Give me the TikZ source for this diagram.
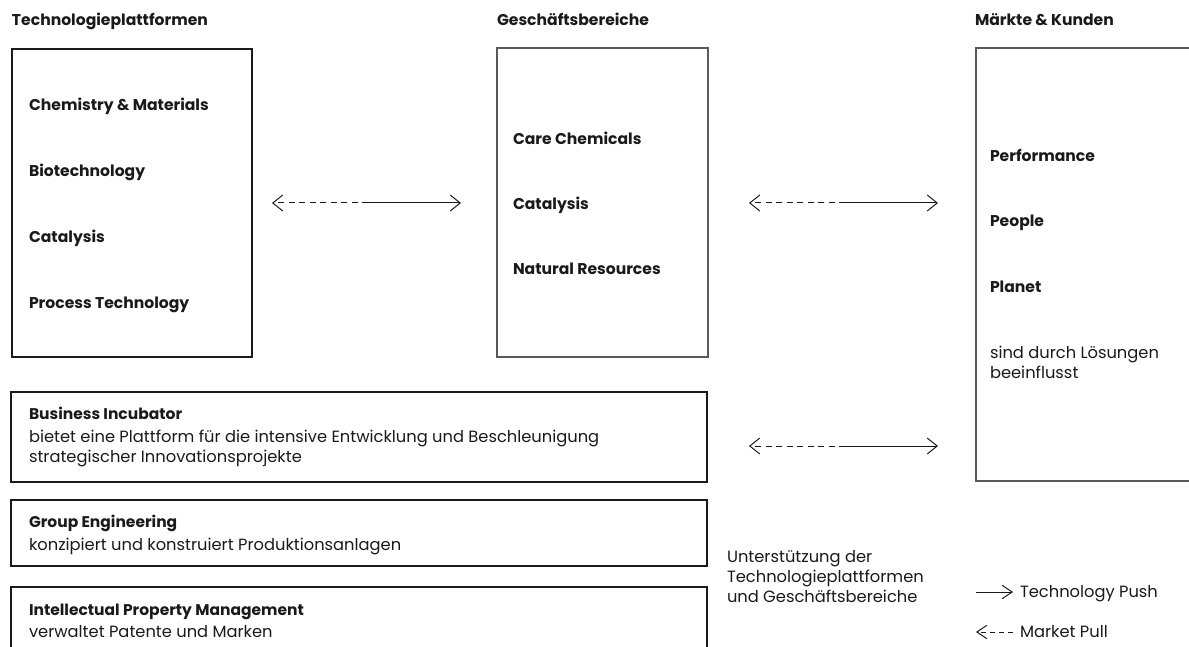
\documentclass[tikz,border=0pt]{standalone}
\usepackage{fontspec}
\setmainfont{Poppins}
\usetikzlibrary{arrows.meta}
\definecolor{ink}{HTML}{1A1A1A}
\tikzset{
  every node/.style={inner sep=0pt, outer sep=0pt, text=ink},
  heavybox/.style={draw=ink, line width=2.6pt, anchor=north west},
  lightbox/.style={draw=black!65, line width=1.2pt, anchor=north west},
  head/.style={anchor=base west, font=\fontsize{15.6}{18}\selectfont\bfseries},
  item/.style={anchor=base west, font=\fontsize{15.6}{18}\selectfont\bfseries},
  body/.style={anchor=base west, font=\fontsize{16.3}{20}\selectfont, align=left},
  bodybold/.style={anchor=base west, font=\fontsize{15.5}{20}\selectfont\bfseries},
  push/.style={draw=ink, line width=1pt, -{Straight Barb[length=10pt,width=16pt]}},
  pull/.style={draw=ink, line width=1pt, dash pattern=on 6pt off 4.5pt, -{Straight Barb[length=10pt,width=16pt]}},
  legpush/.style={draw=ink, line width=1pt, -{Straight Barb[length=10pt,width=13.5pt]}},
  legpull/.style={draw=ink, line width=1pt, dash pattern=on 5pt off 4pt, -{Straight Barb[length=10pt,width=13.5pt]}},
}
\begin{document}
\begin{tikzpicture}[x=1pt, y=-1pt]
  \useasboundingbox (0,0) rectangle (1189,647);
  \clip (0,0) rectangle (1189,647);

  % column headings
  \node[head] (h1) at (12,26) {Technologieplattformen};
  \node[head] (h2) at (497,26) {Geschäftsbereiche};
  \node[head] (h3) at (975,26) {Märkte \& Kunden};

  % main boxes
  \node[heavybox, minimum width=240pt, minimum height=308pt] (tech) at (12,49) {};
  \node[lightbox, minimum width=211pt, minimum height=309pt] (biz) at (497,48) {};
  \node[lightbox, minimum width=260pt, minimum height=433pt] (mkt) at (976,48) {};

  % technology platforms
  \node[item] (t1) at (29,111) {Chemistry \& Materials};
  \node[item] (t2) at (29,177) {Biotechnology};
  \node[item] (t3) at (29,243) {Catalysis};
  \node[item] (t4) at (29,308) {Process Technology};

  % business areas
  \node[item] (b1) at (513,145) {Care Chemicals};
  \node[item] (b2) at (513,210) {Catalysis};
  \node[item] (b3) at (513,275) {Natural Resources};

  % markets (multi-line nodes sit on the baseline of their last line)
  \node[item] (m1) at (990,162) {Performance};
  \node[item] (m2) at (990,227) {People};
  \node[item] (m3) at (990,292) {Planet};
  \node[body] (m4) at (990,378) {sind durch Lösungen\\beeinflusst};

  % support units
  \node[heavybox, minimum width=696pt, minimum height=90pt] (inc) at (11,392) {};
  \node[bodybold] (inct) at (29,419) {Business Incubator};
  \node[body] (incd) at (29,462) {bietet eine Plattform für die intensive Entwicklung und Beschleunigung\\strategischer Innovationsprojekte};

  \node[heavybox, minimum width=696pt, minimum height=66pt] (eng) at (11,500) {};
  \node[bodybold] (engt) at (29,527) {Group Engineering};
  \node[body] (engd) at (29,550) {konzipiert und konstruiert Produktionsanlagen};

  \node[heavybox, minimum width=696pt, minimum height=90pt] (ipm) at (11,587) {};
  \node[bodybold] (ipmt) at (29,615) {Intellectual Property Management};
  \node[body] (ipmd) at (29,637) {verwaltet Patente und Marken};

  \node[body] (sup) at (727,602) {Unterstützung der\\Technologieplattformen\\und Geschäftsbereiche};

  % push / pull connectors
  \coordinate (a1l) at (272,203);
  \coordinate (a1m) at (368,203);
  \coordinate (a1r) at (461,203);
  \draw[pull] (a1m) -- (a1l);
  \draw[push] (a1m) -- (a1r);

  \coordinate (a2l) at (749,203);
  \coordinate (a2m) at (845,203);
  \coordinate (a2r) at (938,203);
  \draw[pull] (a2m) -- (a2l);
  \draw[push] (a2m) -- (a2r);

  \coordinate (a3l) at (749,446);
  \coordinate (a3m) at (845,446);
  \coordinate (a3r) at (938,446);
  \draw[pull] (a3m) -- (a3l);
  \draw[push] (a3m) -- (a3r);

  % legend
  \coordinate (lg1a) at (976,592);
  \coordinate (lg1b) at (1013,592);
  \draw[legpush] (lg1a) -- (lg1b);
  \node[body] (lg1) at (1020,597) {Technology Push};

  \coordinate (lg2a) at (1013,632);
  \coordinate (lg2b) at (976,632);
  \draw[legpull] (lg2a) -- (lg2b);
  \node[body] (lg2) at (1020,637) {Market Pull};
\end{tikzpicture}
\end{document}
